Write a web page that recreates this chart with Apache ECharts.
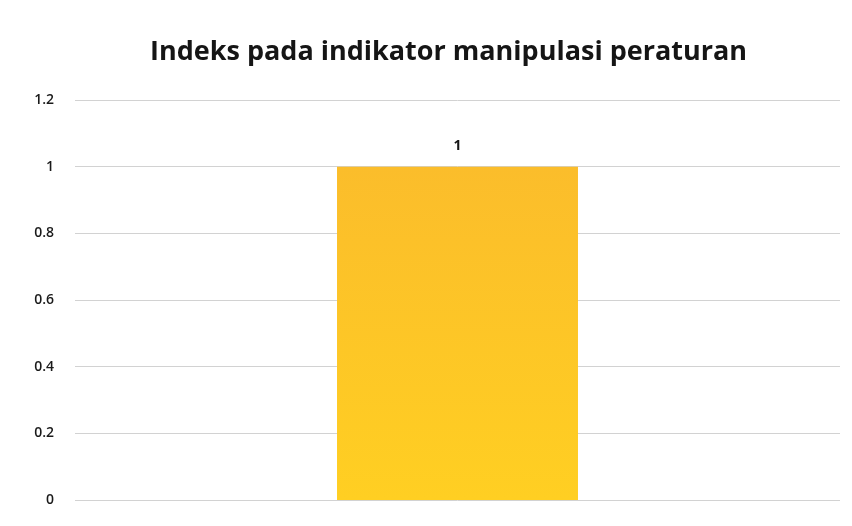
<!DOCTYPE html>
<html>
<head>
<meta charset="utf-8">
<script src="https://cdn.jsdelivr.net/npm/echarts@6/dist/echarts.min.js"></script>
<style>
  html, body { margin: 0; padding: 0; background: #fff; }
  #chart { width: 852px; height: 526px; }
</style>
</head>
<body>
<div id="chart"></div>
<script>
// data
const categories = [''];
const values = [1];
const yTicks = [0, 0.2, 0.4, 0.6, 0.8, 1, 1.2];

const chart = echarts.init(document.getElementById('chart'));
const option = {
  backgroundColor: '#ffffff',
  title: {
    text: 'Indeks pada indikator manipulasi peraturan',
    left: 145,
    top: 34,
    textStyle: {
      fontFamily: 'Open Sans',
      fontWeight: 700,
      fontSize: 27,
      color: '#151515'
    }
  },
  grid: {
    left: 75,
    right: 12,
    top: 100,
    bottom: 26
  },
  xAxis: {
    type: 'category',
    data: categories,
    axisLine: { show: false },
    axisTick: { show: false },
    axisLabel: { show: false }
  },
  yAxis: {
    type: 'value',
    min: yTicks[0],
    max: yTicks[yTicks.length - 1],
    interval: 0.2,
    axisLine: { show: false },
    axisTick: { show: false },
    axisLabel: {
      margin: 21,
      fontFamily: 'Open Sans',
      fontWeight: 600,
      fontSize: 14,
      color: '#1a1a1a',
      formatter: function (v) {
        return String(Math.round(v * 10) / 10);
      }
    },
    splitLine: {
      lineStyle: { color: '#d2d2d2', width: 1 }
    }
  },
  series: [
    {
      type: 'bar',
      data: values,
      barWidth: '31.5%',
      itemStyle: {
        color: new echarts.graphic.LinearGradient(0, 0, 0, 1, [
          { offset: 0, color: '#fbbd2b' },
          { offset: 1, color: '#ffcf22' }
        ])
      },
      label: {
        show: true,
        position: 'top',
        distance: 14,
        fontFamily: 'Open Sans',
        fontWeight: 700,
        fontSize: 14,
        color: '#151515'
      }
    }
  ]
};
chart.setOption(option);
</script>
</body>
</html>
